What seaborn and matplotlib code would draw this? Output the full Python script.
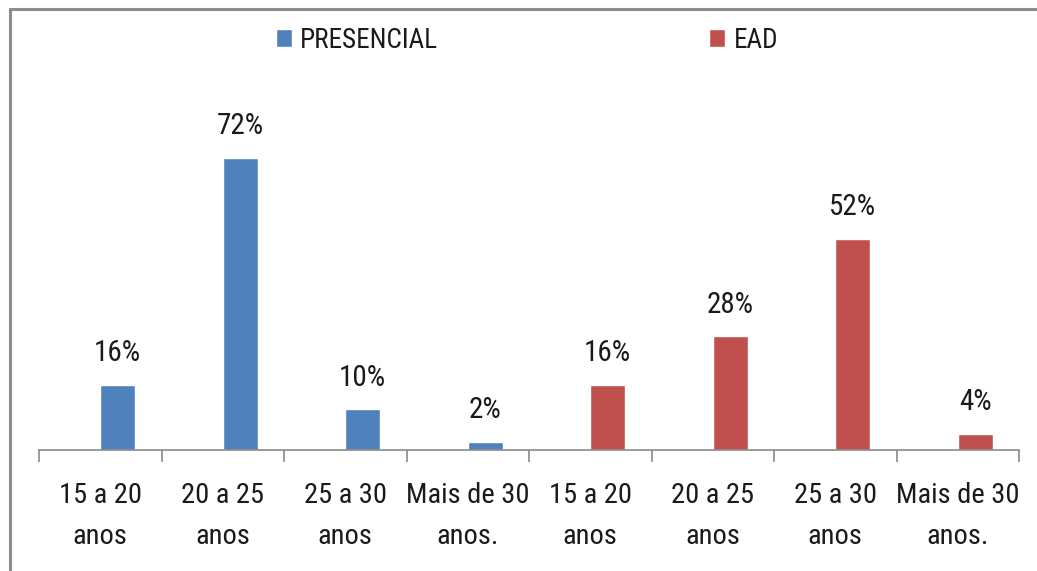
import pandas as pd
import matplotlib
matplotlib.use("Agg")
from matplotlib import pyplot as plt
from matplotlib.lines import Line2D
import seaborn as sns

# faixa etaria dos alunos, presencial x EAD
categorias = ["15 a 20\nanos", "20 a 25\nanos", "25 a 30\nanos", "Mais de 30\nanos.",
              "15 a 20\nanos", "20 a 25\nanos", "25 a 30\nanos", "Mais de 30\nanos."]
series = ["PRESENCIAL"] * 4 + ["EAD"] * 4
valores = [16, 72, 10, 2, 16, 28, 52, 4]
cores = {"PRESENCIAL": "#4F81BD", "EAD": "#C0504D"}

sns.set_style("white")
plt.rcParams["font.family"] = ["Roboto Condensed", "Lato", "DejaVu Sans"]

W, H = 1037, 571
fig = plt.figure(figsize=(W / 100, H / 100), dpi=100)
ax = fig.add_axes([39 / W, (H - 450) / H, 980 / W, 325 / H])

bar_w = 0.285
df = pd.DataFrame({"pos": [i + bar_w / 2 for i in range(len(valores))],
                   "valor": valores, "serie": series})

sns.barplot(data=df, x="pos", y="valor", hue="serie", palette=cores,
            native_scale=True, dodge=False, width=bar_w, ax=ax,
            hue_order=["PRESENCIAL", "EAD"], saturation=1)

for p, v in zip(df["pos"], df["valor"]):
    ax.annotate(f"{v}%", (p, v), xytext=(0, 17), textcoords="offset points",
                ha="center", va="baseline", fontsize=21, color="#1a1a1a")

ax.set_xlim(-0.5, len(valores) - 0.5)
ax.set_ylim(0, 80)
ax.set_xticks([i - 0.5 for i in range(len(valores) + 1)])
ax.set_xticklabels([])
ax.set_xticks(range(len(valores)), minor=True)
ax.set_xticklabels(categorias, minor=True, fontsize=20.5, color="#1a1a1a", linespacing=1.65)
ax.tick_params(axis="x", which="major", length=8.6, width=1.2, color="#8a8a8a", direction="out", bottom=True)
ax.tick_params(axis="x", which="minor", length=0, pad=23)
ax.set_yticks([])
ax.set_xlabel("")
ax.set_ylabel("")
for s in ["top", "right", "left"]:
    ax.spines[s].set_visible(False)
ax.spines["bottom"].set_color("#8a8a8a")
ax.spines["bottom"].set_linewidth(1.2)

handles, labels = ax.get_legend_handles_labels()
ax.get_legend().remove()
fig.legend(handles, labels, loc="center", bbox_to_anchor=(527 / W, 1 - 40 / H),
           ncol=2, frameon=False, fontsize=19.5, handlelength=0.6, handleheight=0.6,
           handletextpad=0.3, columnspacing=10.0, labelcolor="#1a1a1a")

# moldura do grafico (so topo e esquerda aparecem no recorte)
fig.add_artist(Line2D([10 / W, 1], [1 - 8.5 / H, 1 - 8.5 / H], color="#8c8c8c", lw=2.2,
                      transform=fig.transFigure))
fig.add_artist(Line2D([10 / W, 10 / W], [0, 1 - 8.5 / H], color="#8c8c8c", lw=2.2,
                      transform=fig.transFigure))

fig.savefig("out.png", dpi=100)
